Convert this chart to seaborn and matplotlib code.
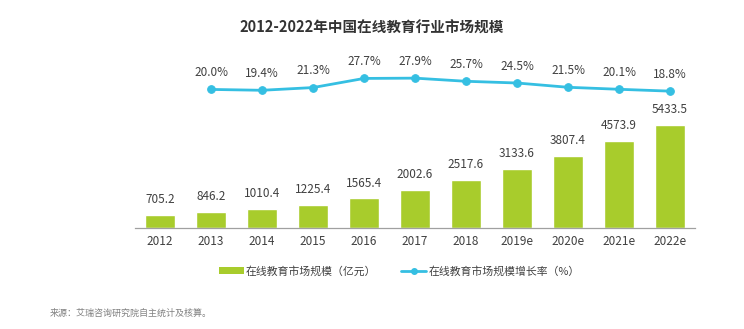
import matplotlib
matplotlib.use("Agg")
import matplotlib.pyplot as plt
import seaborn as sns
import pandas as pd
from matplotlib.patches import Patch
from matplotlib.lines import Line2D

sns.set_theme(style="white")
plt.rcParams['font.family'] = ['Noto Sans CJK SC', 'DejaVu Sans']

years = ["2012", "2013", "2014", "2015", "2016", "2017", "2018", "2019e", "2020e", "2021e", "2022e"]
market_size = [705.2, 846.2, 1010.4, 1225.4, 1565.4, 2002.6, 2517.6, 3133.6, 3807.4, 4573.9, 5433.5]
growth_rate = [20.0, 19.4, 21.3, 27.7, 27.9, 25.7, 24.5, 21.5, 20.1, 18.8]
growth_years = years[1:]

title = "2012-2022年中国在线教育行业市场规模"
bar_label = "在线教育市场规模（亿元）"
line_label = "在线教育市场规模增长率（%）"
source = "来源：艾瑞咨询研究院自主统计及核算。"

BAR_C = "#A8CC2C"
LINE_C = "#35BFE2"
TXT = "#404040"

df = pd.DataFrame({"year": years, "size": market_size})
dfl = pd.DataFrame({"pos": list(range(1, len(years))), "rate": growth_rate})

fig = plt.figure(figsize=(7.44, 3.29), dpi=100)
ax = fig.add_axes([135/744, (329-228)/329, 560/744, 168/329])
sns.barplot(data=df, x="year", y="size", color=BAR_C, width=0.58, ax=ax, saturation=1)
ax.set_xlim(-0.49, 10.49)
ax.set_ylim(0, 8860)
for i, v in enumerate(market_size):
    ax.annotate(f"{v:.1f}", (i, v), xytext=(0, 11), textcoords="offset points",
                ha="center", va="center", fontsize=8.5, color=TXT)
ax.set_xlabel("")
ax.set_ylabel("")
ax.set_yticks([])
ax.tick_params(axis="x", length=0, labelsize=8.5, labelcolor=TXT, pad=5)
for s in ["top", "left", "right"]:
    ax.spines[s].set_visible(False)
ax.spines["bottom"].set_color("#A0A0A0")
ax.spines["bottom"].set_linewidth(0.9)

ax2 = ax.twinx()
sns.lineplot(data=dfl, x="pos", y="rate", color=LINE_C, linewidth=2, marker="o",
             markersize=5.5, markeredgecolor=LINE_C, ax=ax2)
ax2.set_ylim(-77, 40.6)
ax2.set_xlim(-0.49, 10.49)
ax2.set_yticks([])
ax2.set_ylabel("")
for s in ["top", "left", "right", "bottom"]:
    ax2.spines[s].set_visible(False)
for p, r in zip(dfl["pos"], growth_rate):
    ax2.annotate(f"{r:.1f}%", (p, r), xytext=(0, 12), textcoords="offset points",
                 ha="center", va="center", fontsize=8.5, color=TXT)

fig.text(372/744, 1 - 28/329, title, ha="center", va="center", fontsize=10.5, fontweight="bold", color="#333333")

handles = [Patch(facecolor=BAR_C, edgecolor="none"),
           Line2D([0], [0], color=LINE_C, lw=2, marker="o", markersize=4)]
fig.legend(handles, [bar_label, line_label], loc="center", bbox_to_anchor=(399/744, 1 - 271/329),
           ncol=2, frameon=False, fontsize=7.8, handlelength=2.3, handleheight=0.6,
           columnspacing=2.3, handletextpad=0.2, labelcolor=TXT)

fig.text(50/744, 1 - 313/329, source, ha="left", va="center", fontsize=6.5, color="#808080")

fig.savefig("out.png", dpi=100)
